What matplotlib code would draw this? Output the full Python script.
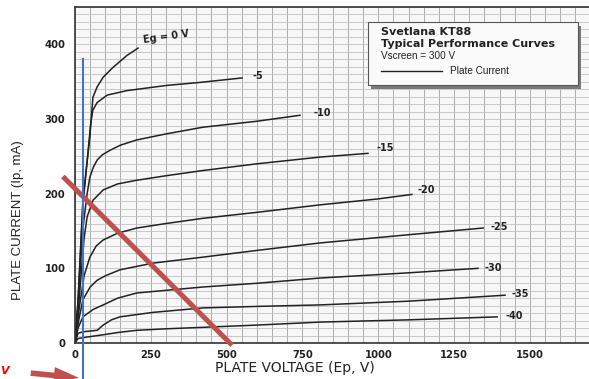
"""KT88 plate curves with load line
"""
import matplotlib
matplotlib.use("Agg")
import matplotlib.pyplot as plt
from matplotlib.patches import Rectangle
import numpy as np

# grid voltage labels and curve end labels
grid_labels = ["Eg = 0 V", "-5", "-10", "-15", "-20", "-25", "-30", "-35", "-40"]

# plate voltage (V) / plate current (mA) read from the sheet
v_g0 = [0, 10, 26, 49, 59, 73, 93, 125, 171, 208]
i_g0 = [0, 57, 191, 276, 329, 343, 356, 369, 385, 395]
v_g5 = [0, 10, 26, 45, 52, 59, 73, 106, 171, 303, 412, 551]
i_g5 = [0, 55, 185, 265, 295, 312, 322, 332, 338, 345, 349, 355]
v_g10 = [0, 10, 25, 40, 49, 60, 73, 90, 115, 150, 204, 300, 422, 600, 742]
i_g10 = [0, 50, 150, 200, 222, 235, 245, 252, 258, 265, 272, 280, 289, 297, 305]
v_g15 = [0, 12, 30, 40, 59, 93, 140, 204, 300, 422, 600, 808, 966]
i_g15 = [0, 50, 140, 169, 191, 205, 213, 218, 224, 231, 240, 249, 254]
v_g20 = [0, 15, 30, 49, 70, 93, 140, 204, 300, 422, 600, 808, 1000, 1111]
i_g20 = [0, 50, 90, 115, 130, 138, 147, 154, 160, 167, 175, 185, 193, 199]
v_g25 = [0, 12, 26, 50, 73, 100, 148, 257, 422, 600, 808, 1100, 1346]
i_g25 = [0, 30, 58, 75, 84, 90, 98, 107, 115, 124, 134, 145, 154]
v_g30 = [0, 10, 26, 60, 93, 140, 204, 313, 422, 600, 808, 1100, 1329]
i_g30 = [0, 20, 35, 45, 51, 60, 67, 71, 75, 80, 87, 94, 100]
v_g35 = [0, 10, 26, 50, 73, 93, 120, 148, 257, 422, 600, 808, 1100, 1418]
i_g35 = [0, 13, 15, 16, 17, 24, 31, 35, 41, 47, 49, 51, 56, 64]
v_g40 = [0, 10, 40, 93, 140, 204, 300, 422, 600, 808, 1100, 1392]
i_g40 = [0, 6, 8, 11, 14, 17, 19, 21, 24, 28, 31, 35]

# label positions (V, mA)
label_v = [224, 584, 785, 993, 1131, 1369, 1349, 1438, 1418]
label_i = [410, 357, 308, 261, 205, 155, 100, 66, 36]

# load line and bias marker
load_v = [-40, 518]
load_i = [223, -3]
bias_v = 25

xticks = [0, 250, 500, 750, 1000, 1250, 1500]
yticks = [0, 100, 200, 300, 400]

curves = [(v_g0, i_g0), (v_g5, i_g5), (v_g10, i_g10), (v_g15, i_g15), (v_g20, i_g20),
          (v_g25, i_g25), (v_g30, i_g30), (v_g35, i_g35), (v_g40, i_g40)]

fig = plt.figure(figsize=(5.89, 3.79), dpi=100)
ax = fig.add_axes([75 / 589, 1 - 343 / 379, 1 - 75 / 589, 336 / 379])
ax.set_facecolor("#f7f7f7")
ax.set_xlim(0, 1695)
ax.set_ylim(0, 450)

ax.set_xticks(np.arange(0, 1700, 50), minor=True)
ax.set_yticks(np.arange(0, 451, 10), minor=True)
ax.grid(which="minor", axis="x", color="#adadad", lw=0.7)
ax.grid(which="minor", axis="y", color="#c2c2c2", lw=0.6)
ax.grid(which="major", axis="x", color="#adadad", lw=0.7)
ax.grid(which="major", axis="y", color="#c2c2c2", lw=0.6)
ax.set_axisbelow(True)

ax.set_xticks(xticks)
ax.set_yticks(yticks)
ax.tick_params(which="both", length=0)
ax.tick_params(axis="x", pad=5)
ax.tick_params(axis="y", pad=7)
for lab in ax.get_xticklabels() + ax.get_yticklabels():
    lab.set_fontweight("bold")
    lab.set_fontsize(7.2)
    lab.set_color("#222222")

for side in ["top", "left", "bottom"]:
    ax.spines[side].set_color("#333333")
    ax.spines[side].set_linewidth(1.2)
ax.spines["right"].set_visible(False)

for (v, i), txt, lv, li in zip(curves, grid_labels, label_v, label_i):
    ax.plot(v, i, color="#222222", lw=1.1)
    rot = 8 if txt.startswith("Eg") else 0
    ax.text(lv, li, txt, fontsize=7, fontweight="bold", color="#222222",
            va="center", ha="left", rotation=rot)

# legend box with shadow
ax.add_patch(Rectangle((976, 340), 693, 85, facecolor="#7a7a7a", edgecolor="none", zorder=4))
ax.add_patch(Rectangle((966, 345), 693, 85, facecolor="#fafafa", edgecolor="#555555",
                       lw=0.8, zorder=5))
ax.text(1009, 416, "Svetlana KT88", fontsize=8, fontweight="bold", color="#222222",
        va="center", zorder=6)
ax.text(1009, 401, "Typical Performance Curves", fontsize=8, fontweight="bold",
        color="#222222", va="center", zorder=6)
ax.text(1009, 385, "Vscreen = 300 V", fontsize=7.2, family="Liberation Sans",
        color="#222222", va="center", zorder=6)
ax.plot([1009, 1210], [364, 364], color="#222222", lw=1.0, zorder=6)
ax.text(1237, 364, "Plate Current", fontsize=7.2, family="Liberation Sans",
        color="#222222", va="center", zorder=6)

# load line and bias line
ax.plot(load_v, load_i, color="#c0504d", lw=3.6, clip_on=False, zorder=7,
        solid_capstyle="butt")
ax.plot([bias_v, bias_v], [380, -50], color="#4472c4", lw=1.5, clip_on=False, zorder=7)

ax.annotate("", xy=(22, -47), xytext=(-155, -40), annotation_clip=False,
            arrowprops=dict(arrowstyle="simple,head_length=1.8,head_width=1.2,tail_width=0.4",
                            mutation_scale=10, color="#c0504d", lw=0))

fig.text(0.001, 1 - 371 / 379, "V", color="red", style="italic", fontweight="bold",
         fontsize=8, va="center")

fig.text(294.5 / 589, 1 - 368 / 379, "PLATE VOLTAGE (Ep, V)", fontsize=10,
         color="#222222", ha="center", va="center")
fig.text(18 / 589, 1 - 220 / 379, "PLATE CURRENT (Ip, mA)", fontsize=9.5,
         family="Liberation Sans", color="#222222", ha="center", va="center", rotation=90)

fig.savefig("out.png", dpi=100)
